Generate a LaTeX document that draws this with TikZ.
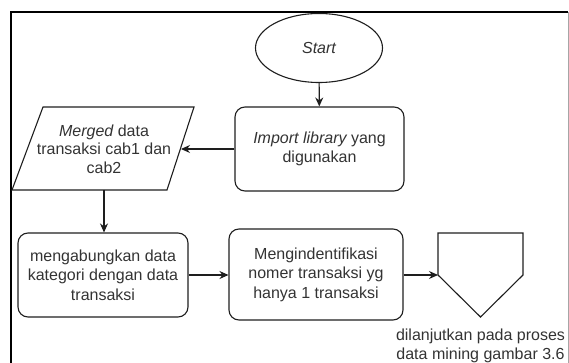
\documentclass[tikz,border=0pt]{standalone}
\usepackage{fontspec}
\setmainfont{Liberation Sans}
\usetikzlibrary{shapes.geometric,arrows.meta}

\definecolor{ink}{HTML}{1E1E1E}
\definecolor{txt}{HTML}{333333}

\tikzset{
  every node/.style={font=\fontsize{16}{19.5}\selectfont, text=txt},
  procbox/.style={draw=ink, line width=1.1pt, rounded corners=10pt,
    align=center, inner sep=0pt},
  terminal/.style={draw=ink, line width=1.1pt, ellipse, inner sep=0pt,
    minimum width=127pt, minimum height=69pt},
  flow/.style={draw=ink, line width=1.1pt,
    -{Stealth[length=9pt, width=8pt]}},
  outline/.style={draw=ink, line width=1.1pt, line join=miter},
}

\begin{document}
\begin{tikzpicture}[x=1pt, y=-1pt]
  \useasboundingbox (0,0) rectangle (569,363);

  % outer frame (open at the bottom)
  \draw[black, line width=2pt] (11,363) -- (11,12.5) -- (568,12.5);
  \draw[black!35, line width=0.8pt] (568,12.5) -- (568,363);

  % start terminal
  \node[terminal] (start) at (319,48) {\itshape Start};

  % import step
  \node[procbox, minimum width=169pt, minimum height=84pt] (import)
    at (319.5,149) {\itshape Import library\upshape{} yang\\digunakan};

  % merged data (input/output parallelogram)
  \draw[outline] (43,107) -- (194,107) -- (167,190) -- (12,190) -- cycle;
  \node[align=center, inner sep=0pt, font=\fontsize{16}{18.5}\selectfont]
    (merged) at (104,149) {\itshape Merged\upshape{} data\\transaksi cab1 dan\\cab2};
  \coordinate (mergedR) at (181,149);
  \coordinate (mergedB) at (104,190);

  % join categories with transactions
  \node[procbox, minimum width=170pt, minimum height=84pt] (join)
    at (103,275) {mengabungkan data\\kategori dengan data\\transaksi};

  % identify single-item transactions
  \node[procbox, minimum width=174pt, minimum height=91pt] (ident)
    at (316,274.5) {Mengindentifikasi\\nomer transaksi yg\\hanya 1 transaksi};

  % off-page connector
  \draw[outline] (438,233) -- (523,233) -- (523,275) -- (480.5,317)
    -- (438,275) -- cycle;
  \coordinate (offL) at (438,275);
  \node[align=center, inner sep=0pt] (offnote) at (480.5,346)
    {dilanjutkan pada proses\\data mining gambar 3.6};

  % connectors
  \draw[flow] (start) -- (import);
  \draw[flow] (import.west) -- (mergedR);
  \draw[flow] (mergedB) -- (join.north -| mergedB);
  \draw[flow] (join.east) -- (ident.west |- join.east);
  \draw[flow] (ident.east |- offL) -- (offL);
\end{tikzpicture}
\end{document}
